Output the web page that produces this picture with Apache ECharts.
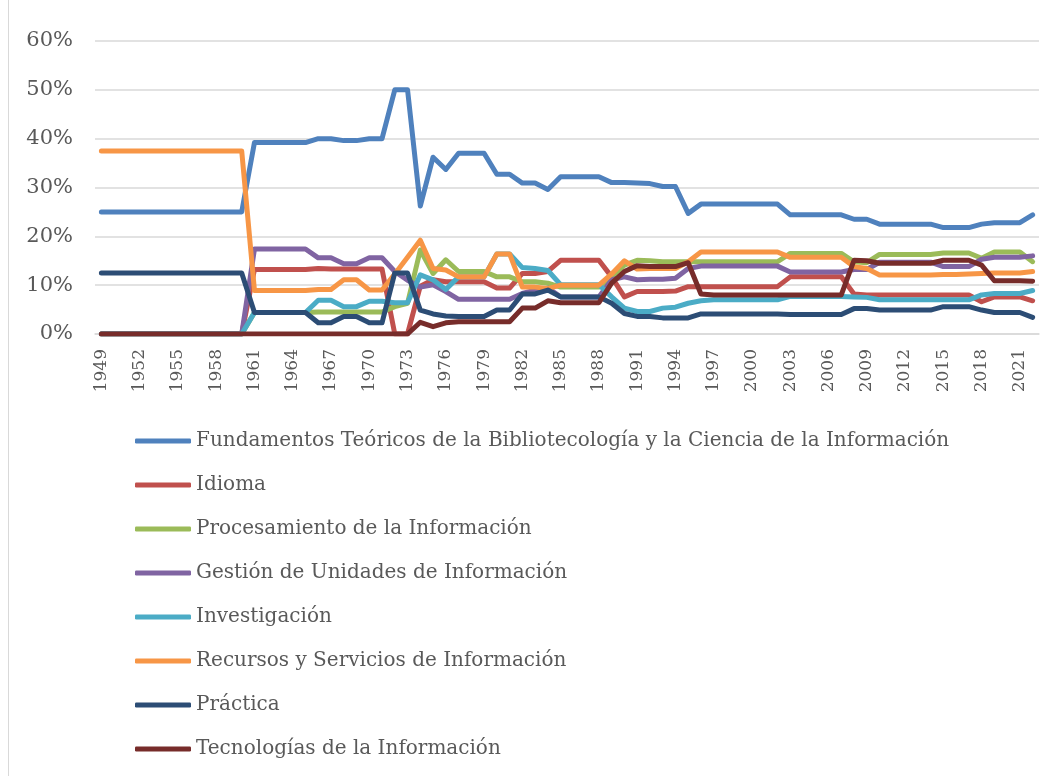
<!DOCTYPE html>
<html>
<head>
<meta charset="utf-8">
<script src="https://cdn.jsdelivr.net/npm/echarts@6/dist/echarts.min.js"></script>
<style>
  html, body { margin: 0; padding: 0; background: #fff; }
  #wrap { position: relative; width: 1059px; height: 776px; }
  #chart { width: 1059px; height: 776px; }
  #edge { position: absolute; left: 8px; top: 0; width: 1px; height: 776px; background: #d9d9d9; }
</style>
</head>
<body>
<div id="wrap">
  <div id="chart"></div>
  <div id="edge"></div>
</div>
<script>
// years 1949..2022
var years = [];
for (var y = 1949; y <= 2022; y++) years.push(String(y));

var names = [
  'Fundamentos Teóricos de la Bibliotecología y la Ciencia de la Información',
  'Idioma',
  'Procesamiento de la Información',
  'Gestión de Unidades de Información',
  'Investigación',
  'Recursos y Servicios de Información',
  'Práctica',
  'Tecnologías de la Información'
];
var colors = ['#4F81BD', '#C0504D', '#9BBB59', '#8064A2', '#4BACC6', '#F79646', '#2C4D75', '#772C2A'];

// valores en %
var fundamentos = [
  25, 25, 25, 25, 25, 25, 25, 25, 25, 25, 25, 25,             // 1949-1960
  39.2, 39.2, 39.2, 39.2, 39.2, 40, 40, 39.6, 39.6, 40, 40,   // 1961-1971
  50, 50, 26.2, 36.2, 33.7, 37, 37, 37, 32.7, 32.7,           // 1972-1981
  30.9, 30.9, 29.6, 32.2, 32.2, 32.2, 32.2, 31, 31, 30.9,     // 1982-1991
  30.8, 30.2, 30.2, 24.7, 26.6, 26.6, 26.6, 26.6, 26.6, 26.6, // 1992-2001
  26.6, 24.4, 24.4, 24.4, 24.4, 24.4, 23.5, 23.5, 22.5, 22.5, // 2002-2011
  22.5, 22.5, 22.5, 21.8, 21.8, 21.8, 22.5, 22.8, 22.8, 22.8, // 2012-2021
  24.4                                                        // 2022
];
var idioma = [
  0, 0, 0, 0, 0, 0, 0, 0, 0, 0, 0, 0,
  13.2, 13.2, 13.2, 13.2, 13.2, 13.4, 13.3, 13.3, 13.3, 13.3, 13.3,
  0, 0, 9.8, 11.1, 10.7, 10.7, 10.7, 10.7, 9.4, 9.4,
  12.4, 12.4, 12.8, 15.1, 15.1, 15.1, 15.1, 11.7, 7.6, 8.7,
  8.7, 8.7, 8.8, 9.7, 9.7, 9.7, 9.7, 9.7, 9.7, 9.7,
  9.7, 11.7, 11.7, 11.7, 11.7, 11.7, 8.2, 8.0, 8.0, 8.0,
  8.0, 8.0, 8.0, 8.0, 8.0, 8.0, 6.6, 7.6, 7.6, 7.6,
  6.8
];
var procesamiento = [
  0, 0, 0, 0, 0, 0, 0, 0, 0, 0, 0, 0,
  4.4, 4.4, 4.4, 4.4, 4.4, 4.5, 4.5, 4.5, 4.5, 4.5, 4.5,
  5.6, 6.3, 17.2, 12.4, 15.2, 12.8, 12.8, 12.8, 11.7, 11.7,
  10.7, 10.7, 10.4, 9.6, 9.6, 9.6, 9.6, 11.7, 14.1, 15.1,
  15.0, 14.8, 14.8, 14.8, 14.8, 14.8, 14.8, 14.8, 14.8, 14.8,
  14.8, 16.5, 16.5, 16.5, 16.5, 16.5, 14.8, 14.6, 16.3, 16.3,
  16.3, 16.3, 16.3, 16.6, 16.6, 16.6, 15.5, 16.8, 16.8, 16.8,
  14.8
];
var gestion = [
  0, 0, 0, 0, 0, 0, 0, 0, 0, 0, 0, 0,
  17.4, 17.4, 17.4, 17.4, 17.4, 15.6, 15.6, 14.4, 14.4, 15.6, 15.6,
  12.8, 11, 9.6, 10.1, 8.7, 7.1, 7.1, 7.1, 7.1, 7.1,
  8.3, 9.0, 9.4, 7.6, 7.6, 7.6, 7.6, 11.1, 11.7, 11.1,
  11.2, 11.2, 11.4, 13.4, 13.9, 13.9, 13.9, 13.9, 13.9, 13.9,
  13.9, 12.7, 12.7, 12.7, 12.7, 12.7, 13.2, 13.2, 14.7, 14.7,
  14.7, 14.7, 14.7, 13.8, 13.8, 13.8, 15.3, 15.7, 15.7, 15.7,
  16.0
];
var investigacion = [
  0, 0, 0, 0, 0, 0, 0, 0, 0, 0, 0, 0,
  4.4, 4.4, 4.4, 4.4, 4.4, 6.9, 6.9, 5.6, 5.6, 6.7, 6.7,
  6.4, 6.4, 12.1, 11.1, 9.1, 11.7, 11.7, 11.7, 16.4, 16.4,
  13.6, 13.4, 13.0, 10.1, 10.1, 10.1, 10.1, 7.6, 5.3, 4.6,
  4.6, 5.3, 5.5, 6.3, 6.8, 7.0, 7.0, 7.0, 7.0, 7.0,
  7.0, 7.7, 7.7, 7.7, 7.7, 7.7, 7.6, 7.5, 7.0, 7.0,
  7.0, 7.0, 7.0, 7.0, 7.0, 7.0, 8.0, 8.3, 8.3, 8.3,
  8.9
];
var recursos = [
  37.5, 37.5, 37.5, 37.5, 37.5, 37.5, 37.5, 37.5, 37.5, 37.5, 37.5, 37.5,
  8.9, 8.9, 8.9, 8.9, 8.9, 9.1, 9.1, 11.1, 11.1, 9.0, 9.0,
  12.3, 15.7, 19.2, 13.4, 13.1, 11.7, 11.7, 11.7, 16.4, 16.4,
  9.6, 9.6, 9.3, 10.0, 10.0, 10.0, 10.0, 12.3, 15.0, 13.3,
  13.4, 13.4, 13.4, 14.8, 16.8, 16.8, 16.8, 16.8, 16.8, 16.8,
  16.8, 15.7, 15.7, 15.7, 15.7, 15.7, 13.8, 13.4, 12.1, 12.1,
  12.1, 12.1, 12.1, 12.2, 12.2, 12.3, 12.4, 12.5, 12.5, 12.5,
  12.8
];
var practica = [
  12.5, 12.5, 12.5, 12.5, 12.5, 12.5, 12.5, 12.5, 12.5, 12.5, 12.5, 12.5,
  4.4, 4.4, 4.4, 4.4, 4.4, 2.3, 2.3, 3.6, 3.6, 2.3, 2.3,
  12.5, 12.5, 4.9, 4.1, 3.7, 3.6, 3.6, 3.6, 4.9, 4.9,
  8.2, 8.2, 9.0, 7.6, 7.6, 7.6, 7.6, 6.3, 4.2, 3.6,
  3.6, 3.3, 3.3, 3.3, 4.1, 4.1, 4.1, 4.1, 4.1, 4.1,
  4.1, 4.0, 4.0, 4.0, 4.0, 4.0, 5.2, 5.2, 4.9, 4.9,
  4.9, 4.9, 4.9, 5.6, 5.6, 5.6, 4.9, 4.4, 4.4, 4.4,
  3.4
];
var tecnologias = [
  0, 0, 0, 0, 0, 0, 0, 0, 0, 0, 0, 0,
  0, 0, 0, 0, 0, 0, 0, 0, 0, 0, 0,
  0, 0, 2.4, 1.5, 2.3, 2.5, 2.5, 2.5, 2.5, 2.5,
  5.3, 5.3, 6.8, 6.4, 6.4, 6.4, 6.4, 10.4, 12.8, 14.0,
  13.8, 13.8, 13.8, 14.6, 8.2, 8.0, 8.0, 8.0, 8.0, 8.0,
  8.0, 8.0, 8.0, 8.0, 8.0, 8.0, 15.1, 15.0, 14.5, 14.5,
  14.5, 14.5, 14.5, 15.1, 15.1, 15.1, 14.1, 10.9, 10.9, 10.9,
  10.8
];

var seriesData = [fundamentos, idioma, procesamiento, gestion, investigacion, recursos, practica, tecnologias];
var font = 'DejaVu Serif';

var chart = echarts.init(document.getElementById('chart'));
chart.setOption({
  animation: false,
  color: colors,
  grid: { left: 95, right: 20, top: 41, bottom: 442, containLabel: false },
  legend: {
    orient: 'vertical',
    left: 130,
    top: 426,
    itemWidth: 56,
    itemHeight: 5,
    itemGap: 24,
    icon: 'roundRect',
    textStyle: { fontFamily: font, fontSize: 20, color: '#595959', lineHeight: 20 },
    data: names
  },
  xAxis: {
    type: 'category',
    data: years,
    boundaryGap: true,
    axisLine: { lineStyle: { color: '#d9d9d9', width: 1.5 } },
    axisTick: { show: false },
    axisLabel: {
      interval: 2,
      rotate: 90,
      margin: 15,
      fontFamily: font,
      fontSize: 17,
      color: '#595959'
    },
    splitLine: { show: false }
  },
  yAxis: {
    type: 'value',
    min: 0,
    max: 60,
    interval: 10,
    axisLine: { show: false },
    axisTick: { show: false },
    axisLabel: {
      formatter: '{value}%',
      margin: 22,
      fontFamily: font,
      fontSize: 21,
      color: '#595959'
    },
    splitLine: { lineStyle: { color: '#d9d9d9', width: 1.5 } }
  },
  series: names.map(function (n, i) {
    return {
      name: n,
      type: 'line',
      data: seriesData[i],
      symbol: 'none',
      lineStyle: { width: 5, cap: 'round', join: 'round' }
    };
  })
});
</script>
</body>
</html>
